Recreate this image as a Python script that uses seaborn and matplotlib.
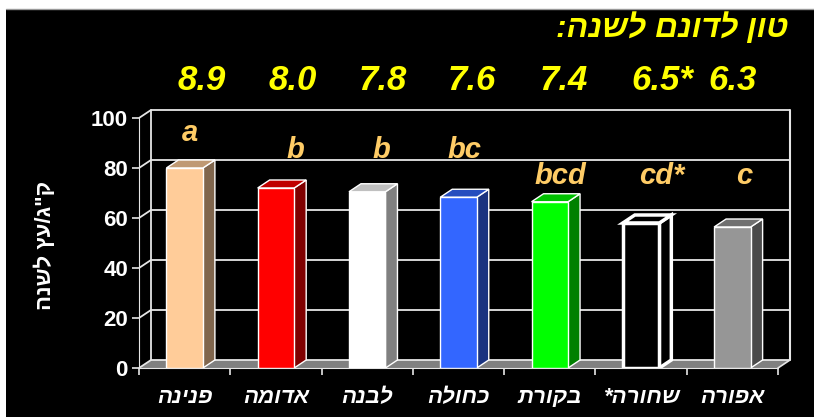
import matplotlib
matplotlib.use('Agg')
import matplotlib.pyplot as plt
import matplotlib.transforms as mtransforms
from matplotlib.patches import Polygon, Rectangle
import pandas as pd
import seaborn as sns

# ------------------------------------------------------------
# data
# ------------------------------------------------------------
varieties = ['פנינה', 'אדומה', 'לבנה', 'כחולה', 'בקורת', 'שחורה*', 'אפורה']
kg_per_tree = [80.0, 72.0, 70.5, 68.3, 66.5, 58.0, 56.4]
ton_per_dunam = ['8.9', '8.0', '7.8', '7.6', '7.4', '6.5*', '6.3']
sig_letters = ['a', 'b', 'b', 'bc', 'bcd', 'cd*', 'c']
yticks = [0, 20, 40, 60, 80, 100]

title_txt = 'טון לדונם לשנה:'
ylabel_txt = 'ק"ג/עץ לשנה'

# bar colours: front face, PowerPoint-style darker side / top
front_cols = ['#FFCC99', '#FF0000', '#FFFFFF', '#3366FF', '#00FF00', '#000000', '#969696']
side_cols = ['#80664D', '#800000', '#808080', '#1A3380', '#008000', '#000000', '#4B4B4B']
top_cols = ['#BF9973', '#C00000', '#C0C0C0', '#264DBF', '#00C000', '#000000', '#707070']

# text placement (offsets in category units, baselines in data units)
num_dx = [0.19, 0.18, 0.17, 0.15, 0.15, 0.23, 0.0]
letter_dx = [0.06, 0.21, 0.15, 0.07, 0.12, 0.23, 0.13]
letter_y = [90.8, 84.0, 84.0, 84.0, 73.6, 73.6, 73.6]


def vis(s):
    # matplotlib has no bidi support -> feed Hebrew in visual order
    return s[::-1]


HEB = ['Liberation Sans', 'DejaVu Sans']
YELLOW = '#FFFF00'
ORANGE = '#FFCC66'
GRID = '#E6E6E6'

sns.set_style('dark')
plt.rcParams['font.family'] = HEB
plt.rcParams['axes.unicode_minus'] = False

W, H = 814, 417
fig = plt.figure(figsize=(W / 100, H / 100), dpi=100, facecolor='black')

# white frame strips of the original slide capture
fig.patches.append(Rectangle((0, 1 - 9 / H), 1, 9 / H, transform=fig.transFigure,
                             facecolor='white', edgecolor='none', zorder=0))
fig.patches.append(Rectangle((0, 0), 6 / W, 1, transform=fig.transFigure,
                             facecolor='white', edgecolor='none', zorder=0))
fig.add_artist(plt.Line2D([6 / W, 1], [1 - 9 / H, 1 - 9 / H], transform=fig.transFigure,
                          color='#999999', lw=1))

# axes in pixel layout: front plane 139..778 x, 368..118 y; back wall shifted (+12, -8)
x_left, x_right, y_bot, y_top = 139, 790, 368, 110
ax = fig.add_axes([x_left / W, 1 - y_bot / H, (x_right - x_left) / W, (y_bot - y_top) / H])
ax.set_facecolor('black')

n = len(varieties)
px_per_cat = (778 - 139) / n
ddx = 12 / px_per_cat
ddy = 8 / 2.5

df = pd.DataFrame({'variety': varieties, 'kg': kg_per_tree})
sns.barplot(data=df, x='variety', y='kg', hue='variety', palette=front_cols,
            width=0.4, legend=False, ax=ax, edgecolor='white', linewidth=1,
            saturation=1, zorder=5)

# seaborn resets the categorical limits, so set them afterwards
ax.set_xlim(-0.5, n - 0.5 + ddx)
ax.set_ylim(0, 100 + ddy)

bars = [p for p in ax.patches if isinstance(p, Rectangle)]

# back wall + floor
x0w, x1w = -0.5, n - 0.5
ax.add_patch(Polygon([(x0w, 0), (x1w, 0), (x1w + ddx, ddy), (x0w + ddx, ddy)],
                     closed=True, facecolor='#808080', edgecolor='none', zorder=1, clip_on=False))
for yv in yticks:
    ax.plot([x0w, x0w + ddx, x1w + ddx], [yv, yv + ddy, yv + ddy], color=GRID, lw=1.3,
            zorder=2, clip_on=False, solid_capstyle='butt')
ax.plot([x0w + ddx, x0w + ddx], [ddy, 100 + ddy], color=GRID, lw=1.3, zorder=2, clip_on=False)
ax.plot([x1w + ddx, x1w + ddx], [ddy, 100 + ddy], color=GRID, lw=1.5, zorder=2, clip_on=False)
ax.plot([x1w, x1w + ddx], [0, ddy], color=GRID, lw=1.2, zorder=2, clip_on=False)

# 3-D side and top faces built from the seaborn bars
for i, bar in enumerate(bars):
    bx0 = bar.get_x()
    bx1 = bx0 + bar.get_width()
    h = bar.get_height()
    edge_lw = 2.5 if front_cols[i] == '#000000' else 1
    bar.set_linewidth(edge_lw)
    side = Polygon([(bx1, 0), (bx1 + ddx, ddy), (bx1 + ddx, h + ddy), (bx1, h)], closed=True,
                   facecolor=side_cols[i], edgecolor='white', lw=edge_lw, zorder=4)
    top = Polygon([(bx0, h), (bx0 + ddx, h + ddy), (bx1 + ddx, h + ddy), (bx1, h)], closed=True,
                  facecolor=top_cols[i], edgecolor='white', lw=edge_lw, zorder=4)
    ax.add_patch(side)
    ax.add_patch(top)

# significance letters
for i, lab in enumerate(sig_letters):
    ax.text(i + letter_dx[i], letter_y[i], lab, color=ORANGE, fontsize=21, fontweight='bold',
            fontstyle='italic', ha='center', va='baseline', zorder=6, clip_on=False)

# tons per dunam row above the chart
trans = mtransforms.blended_transform_factory(ax.transData, fig.transFigure)
for i, t in enumerate(ton_per_dunam):
    ax.text(i + num_dx[i], 1 - 80 / H, t, transform=trans, color=YELLOW, fontsize=25,
            fontweight='bold', fontstyle='italic', ha='center', va='center')

fig.text(788 / W, 1 - 28 / H, vis(title_txt), color=YELLOW, fontsize=23, fontweight='bold',
         fontstyle='italic', ha='right', va='center', family=HEB)
fig.text(45 / W, 1 - 245 / H, vis(ylabel_txt), color='white', fontsize=16, fontweight='bold',
         rotation=90, ha='center', va='center', family=HEB)

# axes styling
for s in ['top', 'right']:
    ax.spines[s].set_visible(False)
ax.spines['left'].set_color(GRID)
ax.spines['left'].set_bounds(0, 100)
ax.spines['bottom'].set_color(GRID)
ax.spines['bottom'].set_bounds(x0w, x1w)
ax.grid(False)

ax.set_yticks(yticks)
ax.set_yticklabels([str(v) for v in yticks], color='white', fontsize=16, fontweight='bold')
ax.tick_params(axis='y', length=5, width=1.2, color=GRID, pad=3, left=True, direction='out')

ax.set_xticks(range(n))
ax.set_xticklabels([vis(v) for v in varieties], color='white', fontsize=16,
                   fontweight='bold', fontstyle='italic')
ax.tick_params(axis='x', length=0, pad=14)
ax.set_xticks([k - 0.5 for k in range(n + 1)], minor=True)
ax.tick_params(axis='x', which='minor', length=5, width=1.2, color=GRID, bottom=True, direction='out')
ax.set_xlabel('')
ax.set_ylabel('')

fig.savefig('out.png', dpi=100, facecolor='black')
